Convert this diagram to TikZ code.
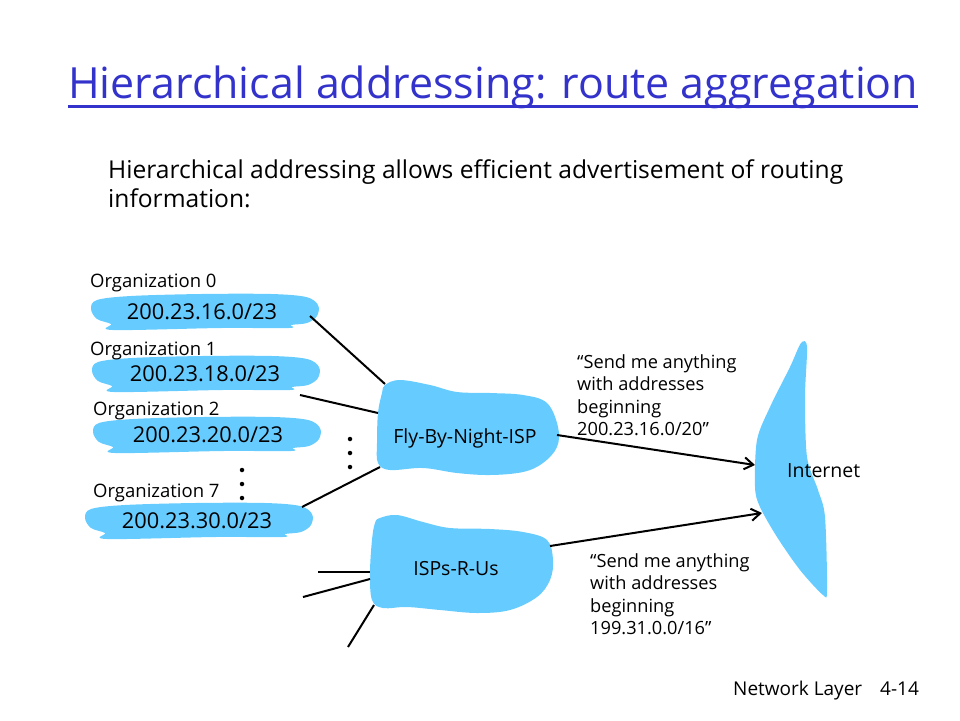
\documentclass[tikz,border=0pt]{standalone}
\usepackage{fontspec}
\setmainfont{Open Sans}
\usetikzlibrary{arrows.meta}
\definecolor{blobblue}{RGB}{102,204,255}
\definecolor{titleblue}{RGB}{51,51,204}
\tikzset{
  blob/.style={fill=blobblue, draw=none},
  orglabel/.style={anchor=base west, inner sep=0pt, font=\fontsize{18.5}{22}\selectfont},
  addr/.style={anchor=base, inner sep=0pt, font=\fontsize{21.8}{26}\selectfont},
  isplabel/.style={anchor=base, inner sep=0pt, font=\fontsize{19.5}{23}\selectfont},
  link/.style={line width=2pt, black},
  adv/.style={line width=2pt, black, -{Straight Barb[length=9pt,width=12pt,line width=2pt]}},
  msg/.style={anchor=north west, inner sep=0pt, align=left, font=\fontsize{18.2}{22.3}\selectfont},
  dot/.style={circle, fill=black, inner sep=0pt, minimum size=4.5pt},
}
\newcommand{\orgshape}{plot[smooth cycle, tension=0.55] coordinates {
  (-104,-12) (-70,-16) (0,-18) (70,-18) (105,-15) (117,-7) (116,4) (106,11)
  (90,13) (88,16) (20,16) (-88,18) (-90,12) (-104,7) (-110,-3)}}
\begin{document}
\begin{tikzpicture}[x=1pt,y=-1pt]
\useasboundingbox (0,0) rectangle (960,720);
% title
\node[anchor=base west, inner sep=0pt, text=titleblue] (title) at (68,98)
  {\resizebox{850pt}{!}{\fontsize{40}{48}\selectfont Hierarchical addressing: route aggregation}};
\draw[titleblue, line width=3pt] (68,106) -- (918,106);
\node[anchor=north west, inner sep=0pt, align=left, font=\fontsize{24.6}{29}\selectfont] (sub) at (108,159.5)
  {Hierarchical addressing allows efficient advertisement of routing\\information:};
% organization blobs
\fill[blob, shift={(201,312)}] \orgshape;
\fill[blob, shift={(202,374)}] \orgshape;
\fill[blob, shift={(203,435)}] \orgshape;
\fill[blob, shift={(195,521)}] \orgshape;
\node[orglabel] (l0) at (90,287) {Organization 0};
\node[orglabel] (l1) at (90,355) {Organization 1};
\node[orglabel] (l2) at (93,415) {Organization 2};
\node[orglabel] (l7) at (93,497) {Organization 7};
\node[addr] (o0) at (202,319) {200.23.16.0/23};
\node[addr] (o1) at (205,381) {200.23.18.0/23};
\node[addr] (o2) at (208,442) {200.23.20.0/23};
\node[addr] (o7) at (197,528) {200.23.30.0/23};
% Fly-By-Night
\fill[blob] plot[smooth cycle, tension=0.6] coordinates {
  (385,385) (400,380) (430,385) (457,392) (490,393) (523,395) (547,403) (558,427)
  (557,447) (543,463) (523,472) (490,475) (457,473) (423,468) (390,470) (378,463)
  (377,443) (378,413) (382,393)};
\node[isplabel] (fbn) at (465,443) {Fly-By-Night-ISP};
% ISPs-R-Us
\fill[blob] plot[smooth cycle, tension=0.6] coordinates {
  (380,518) (397,515) (423,522) (450,528) (490,529) (523,532) (547,540) (553,560)
  (550,580) (537,597) (510,610) (477,613) (440,610) (407,607) (383,608) (372,600)
  (370,573) (372,540) (375,523)};
\node[isplabel] (isp) at (456,575) {ISPs-R-Us};
% Internet
\fill[blob] plot[smooth cycle, tension=0.5] coordinates {
  (801,343) (807,347) (805,397) (807,457) (818,490) (825,517) (827,590) (823,595)
  (800,570) (777,537) (760,507) (755,487) (757,440) (770,407) (790,367)};
\node[isplabel, anchor=base west] (inet) at (787,477) {Internet};
% connector endpoints
\coordinate (c0) at (310,316);
\coordinate (c1) at (300,395);
\coordinate (c7) at (302,507);
\coordinate (f0) at (385,384);
\coordinate (f1) at (378,413);
\coordinate (f7) at (380,467);
\coordinate (fo) at (557,435);
\coordinate (i1) at (755,465);
\coordinate (io) at (550,546);
\coordinate (i2) at (762,513);
\coordinate (e1) at (318,572);
\coordinate (e2) at (303,597);
\coordinate (e3) at (348,647);
\coordinate (g1) at (370,572);
\coordinate (g2) at (370,579);
\coordinate (g3) at (374,605);
\draw[link] (c0) -- (f0);
\draw[link] (c1) -- (f1);
\draw[link] (c7) -- (f7);
\draw[link] (e1) -- (g1);
\draw[link] (e2) -- (g2);
\draw[link] (e3) -- (g3);
\draw[adv] (fo) -- (i1);
\draw[adv] (io) -- (i2);
% dots
\node[dot] (d1) at (350,439) {};
\node[dot] (d2) at (350,453) {};
\node[dot] (d3) at (350,467) {};
\node[dot] (d4) at (242,470) {};
\node[dot] (d5) at (242,484) {};
\node[dot] (d6) at (242,498) {};
% messages
\node[msg] (m1) at (577,354.5) {“Send me anything\\with addresses\\beginning\\200.23.16.0/20”};
\node[msg] (m2) at (590,553.5) {“Send me anything\\with addresses\\beginning\\199.31.0.0/16”};
% footer
\node[anchor=base west, inner sep=0pt, font=\fontsize{19}{22}\selectfont] (foot) at (733,695) {Network Layer\hspace{18pt}4-14};
\end{tikzpicture}
\end{document}
